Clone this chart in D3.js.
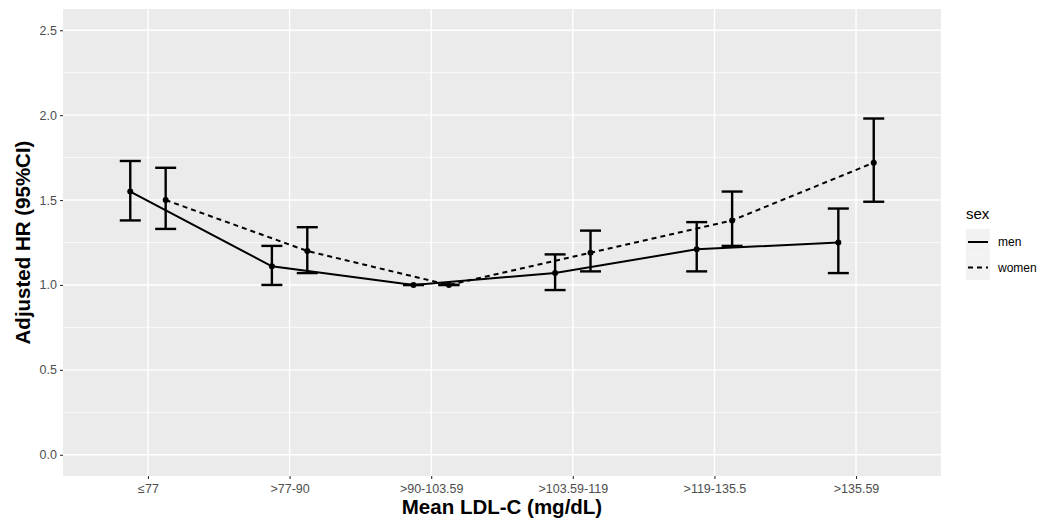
<!DOCTYPE html>
<html>
<head>
<meta charset="utf-8">
<script src="https://cdn.jsdelivr.net/npm/d3@7"></script>
<style>
  body { margin: 0; background: #fff; }
  text { font-family: Arial, "Liberation Sans", sans-serif; }
</style>
</head>
<body>
<div id="display-container"></div>
<script>
// categories and values
var categories = ["≤77", ">77-90", ">90-103.59", ">103.59-119", ">119-135.5", ">135.59"];
var sexes = ["men", "women"];
var menHR = [1.55, 1.11, 1.00, 1.07, 1.21, 1.25];
var menLow = [1.38, 1.00, 1.00, 0.97, 1.08, 1.07];
var menHigh = [1.73, 1.23, 1.00, 1.18, 1.37, 1.45];
var womenHR = [1.50, 1.20, 1.00, 1.19, 1.38, 1.72];
var womenLow = [1.33, 1.07, 1.00, 1.08, 1.23, 1.49];
var womenHigh = [1.69, 1.34, 1.00, 1.32, 1.55, 1.98];
var yTicks = [0.0, 0.5, 1.0, 1.5, 2.0, 2.5];
var yMinor = [0.25, 0.75, 1.25, 1.75, 2.25];

var width = 1056, height = 521;
var margin = {top: 9, right: 115, bottom: 45, left: 63};
var pw = width - margin.left - margin.right;
var ph = height - margin.top - margin.bottom;

var svg = d3.select("#display-container").append("svg")
    .attr("width", width)
    .attr("height", height);

var g = svg.append("g").attr("transform", "translate(" + margin.left + "," + margin.top + ")");

// discrete x like ggplot: 0.6 units padding on each side
var x = d3.scaleLinear().domain([-0.6, categories.length - 1 + 0.6]).range([0, pw]);
var y = d3.scaleLinear().domain([-0.125, 2.625]).range([ph, 0]);
var dodge = 0.125;

g.append("rect").attr("width", pw).attr("height", ph).attr("fill", "#EBEBEB");

// minor grid
g.selectAll(".minor").data(yMinor).enter().append("line")
    .attr("x1", 0).attr("x2", pw)
    .attr("y1", function(d){ return y(d); }).attr("y2", function(d){ return y(d); })
    .attr("stroke", "#fff").attr("stroke-width", 0.7);
// major grid
g.selectAll(".hmajor").data(yTicks).enter().append("line")
    .attr("x1", 0).attr("x2", pw)
    .attr("y1", function(d){ return y(d); }).attr("y2", function(d){ return y(d); })
    .attr("stroke", "#fff").attr("stroke-width", 1.4);
g.selectAll(".vmajor").data(categories).enter().append("line")
    .attr("x1", function(d, i){ return x(i); }).attr("x2", function(d, i){ return x(i); })
    .attr("y1", 0).attr("y2", ph)
    .attr("stroke", "#fff").attr("stroke-width", 1.4);

// axes
var yAxis = g.append("g").call(d3.axisLeft(y).tickValues(yTicks).tickFormat(d3.format(".1f")).tickSize(3).tickPadding(3));
var xAxis = g.append("g").attr("transform", "translate(0," + ph + ")")
    .call(d3.axisBottom(x).tickValues(d3.range(categories.length)).tickFormat(function(i){ return categories[i]; }).tickSize(3).tickPadding(5));
[yAxis, xAxis].forEach(function(a){
    a.select(".domain").remove();
    a.selectAll(".tick line").attr("stroke", "#333").attr("stroke-width", 1.1);
    a.selectAll(".tick text").attr("fill", "#4D4D4D").style("font-size", "12.5px").style("font-family", "Arial, 'Liberation Sans', sans-serif");
});

// series
var series = [
    {name: "men", hr: menHR, lo: menLow, hi: menHigh, off: -dodge, dash: null},
    {name: "women", hr: womenHR, lo: womenLow, hi: womenHigh, off: dodge, dash: "5,4"}
];

var line = d3.line()
    .x(function(d){ return d.x; })
    .y(function(d){ return d.y; });

series.forEach(function(s){
    var pts = categories.map(function(c, i){
        return {x: x(i + s.off), y: y(s.hr[i]), lo: y(s.lo[i]), hi: y(s.hi[i])};
    });
    g.append("path").datum(pts)
        .attr("d", line)
        .attr("fill", "none")
        .attr("stroke", "#000")
        .attr("stroke-width", 2)
        .attr("stroke-dasharray", s.dash);

    var eb = g.append("g");
    var capW = 10.5;
    pts.forEach(function(p){
        eb.append("line").attr("x1", p.x).attr("x2", p.x).attr("y1", p.lo).attr("y2", p.hi)
            .attr("stroke", "#000").attr("stroke-width", 2.4);
        eb.append("line").attr("x1", p.x - capW).attr("x2", p.x + capW).attr("y1", p.lo).attr("y2", p.lo)
            .attr("stroke", "#000").attr("stroke-width", 2.4);
        eb.append("line").attr("x1", p.x - capW).attr("x2", p.x + capW).attr("y1", p.hi).attr("y2", p.hi)
            .attr("stroke", "#000").attr("stroke-width", 2.4);
    });
    g.selectAll(".pt-" + s.name).data(pts).enter().append("circle")
        .attr("cx", function(d){ return d.x; })
        .attr("cy", function(d){ return d.y; })
        .attr("r", 3)
        .attr("fill", "#000");
});

// axis titles
svg.append("text")
    .attr("x", margin.left + pw / 2).attr("y", 514)
    .attr("text-anchor", "middle")
    .style("font-size", "20.5px").style("font-weight", "bold")
    .text("Mean LDL-C (mg/dL)");
svg.append("text")
    .attr("transform", "translate(30," + (margin.top + ph / 2) + ") rotate(-90)")
    .attr("text-anchor", "middle")
    .style("font-size", "20.5px").style("font-weight", "bold")
    .text("Adjusted HR (95%CI)");

// legend
var lg = svg.append("g").attr("transform", "translate(966,219)");
lg.append("text").attr("x", 0).attr("y", 0)
    .style("font-size", "15px").attr("fill", "#000").text("sex");
sexes.forEach(function(name, i){
    var ky = 10 + i * 25.5;
    lg.append("rect").attr("x", 0).attr("y", ky).attr("width", 24).attr("height", 25.5).attr("fill", "#F2F2F2");
    lg.append("line").attr("x1", 2).attr("x2", 22).attr("y1", ky + 13).attr("y2", ky + 13)
        .attr("stroke", "#000").attr("stroke-width", 2)
        .attr("stroke-dasharray", series[i].dash);
    lg.append("text").attr("x", 32).attr("y", ky + 17)
        .style("font-size", "12px").attr("fill", "#000").text(name);
});
</script>
</body>
</html>
